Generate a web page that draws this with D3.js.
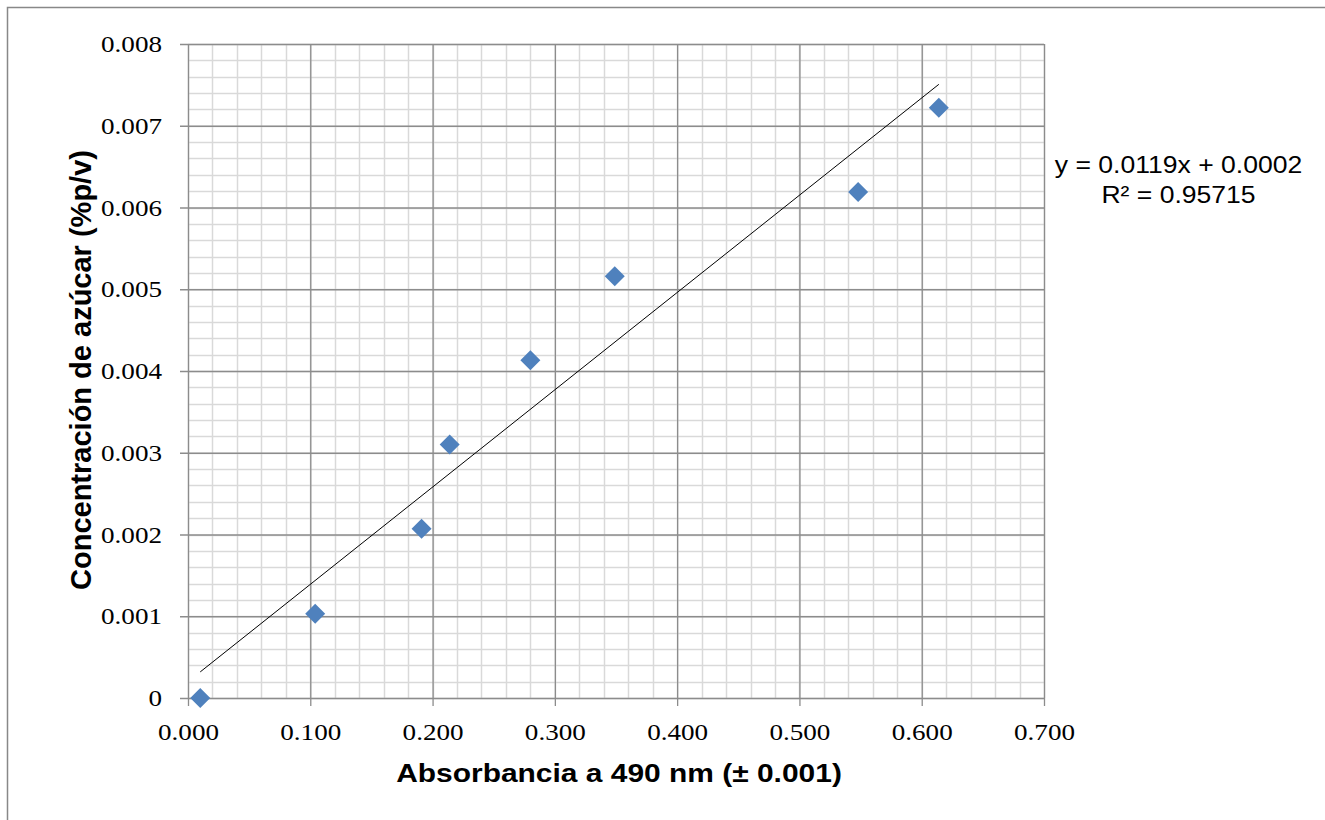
<!DOCTYPE html>
<html>
<head>
<meta charset="utf-8">
<script src="https://cdn.jsdelivr.net/npm/d3@7"></script>
<style>
  body { margin: 0; background: #fff; }
  .tick text { font-family: 'Liberation Serif', serif; font-size: 24px; fill: #000; }
  .axis-title { font-family: 'Liberation Sans', Arial, sans-serif; font-weight: bold; }
  .eq { font-family: 'Liberation Sans', Arial, sans-serif; font-size: 23.5px; }
</style>
</head>
<body>
<div id="wrapper"></div>
<script>
// absorbance readings and sugar concentration
const absorbance = [0.010, 0.104, 0.191, 0.214, 0.280, 0.349, 0.548, 0.614]
const concentration = [0.0000, 0.00103, 0.00207, 0.00310, 0.00413, 0.00516, 0.00619, 0.00722]

// trendline from the chart label
const slope = 0.0119
const intercept = 0.0002

const xTicks = [0, 0.1, 0.2, 0.3, 0.4, 0.5, 0.6, 0.7]
const yTicks = [0, 0.001, 0.002, 0.003, 0.004, 0.005, 0.006, 0.007, 0.008]
const eqLines = ['y = 0.0119x + 0.0002', 'R² = 0.95715']

// the original text is a little wider than the local fonts
const stretch = 1.13

function widen(text, k) {
  text.each(function() {
    const t = d3.select(this)
    const x = +t.attr('x') || 0
    const y = +t.attr('y') || 0
    t.attr('x', 0).attr('y', 0)
      .attr('transform', `translate(${x}, ${y}) scale(${k}, 1)`)
  })
}

function drawChart() {
  const dataset = absorbance.map((a, i) => ({x: a, y: concentration[i]}))

  let dimensions = {
    width: 1325,
    height: 820,
    margin: {top: 44, right: 281, bottom: 122, left: 188}
  }
  dimensions.boundedWidth = dimensions.width - dimensions.margin.left - dimensions.margin.right
  dimensions.boundedHeight = dimensions.height - dimensions.margin.top - dimensions.margin.bottom

  const wrapper = d3.select('#wrapper')
    .append('svg')
      .attr('width', dimensions.width)
      .attr('height', dimensions.height)

  // outer chart frame
  wrapper.append('path')
    .attr('d', 'M7.5,830 V7.5 H1330')
    .attr('fill', 'none')
    .attr('stroke', '#888')
    .attr('stroke-width', 1.5)

  const bounds = wrapper.append('g')
    .attr('transform', `translate(${dimensions.margin.left}, ${dimensions.margin.top})`)

  const xScale = d3.scaleLinear()
    .domain([0, 0.7])
    .range([0, dimensions.boundedWidth])

  const yScale = d3.scaleLinear()
    .domain([0, 0.008])
    .range([dimensions.boundedHeight, 0])

  // minor gridlines
  const xMinor = d3.range(0, 35 + 1).map(i => i * 0.02)
  const yMinor = d3.range(0, 40 + 1).map(i => i * 0.0002)

  bounds.append('g').selectAll('line')
    .data(xMinor)
    .join('line')
      .attr('x1', d => Math.round(xScale(d)) + 0.5)
      .attr('x2', d => Math.round(xScale(d)) + 0.5)
      .attr('y1', 0)
      .attr('y2', dimensions.boundedHeight)
      .attr('stroke', '#d9d9d9')
      .attr('stroke-width', 1.5)

  bounds.append('g').selectAll('line')
    .data(yMinor)
    .join('line')
      .attr('y1', d => Math.round(yScale(d)) + 0.5)
      .attr('y2', d => Math.round(yScale(d)) + 0.5)
      .attr('x1', 0)
      .attr('x2', dimensions.boundedWidth)
      .attr('stroke', '#d9d9d9')
      .attr('stroke-width', 1.5)

  // axes with major gridlines
  const xAxisGenerator = d3.axisBottom(xScale)
    .tickValues(xTicks)
    .tickFormat(d3.format('.3f'))
    .tickSizeInner(-dimensions.boundedHeight - 8)
    .tickSizeOuter(0)
    .tickPadding(17)

  const xAxis = bounds.append('g')
    .attr('transform', `translate(0, ${dimensions.boundedHeight + 8})`)
    .call(xAxisGenerator)
  xAxis.select('.domain').remove()
  xAxis.selectAll('.tick line').attr('stroke', '#8c8c8c').attr('stroke-width', 1.3)
  xAxis.selectAll('.tick text').call(widen, stretch)

  const yAxisGenerator = d3.axisLeft(yScale)
    .tickValues(yTicks)
    .tickFormat(d => d === 0 ? '0' : d3.format('.3f')(d))
    .tickSizeInner(-dimensions.boundedWidth - 8)
    .tickSizeOuter(0)
    .tickPadding(18)

  const yAxis = bounds.append('g')
    .attr('transform', 'translate(-8, 0)')
    .call(yAxisGenerator)
  yAxis.select('.domain').remove()
  yAxis.selectAll('.tick line').attr('stroke', '#8c8c8c').attr('stroke-width', 1.3)
  yAxis.selectAll('.tick text').call(widen, stretch)

  // trendline
  const xExtent = d3.extent(absorbance)
  bounds.append('line')
    .attr('x1', xScale(xExtent[0]))
    .attr('y1', yScale(slope * xExtent[0] + intercept))
    .attr('x2', xScale(xExtent[1]))
    .attr('y2', yScale(slope * xExtent[1] + intercept))
    .attr('stroke', '#000')
    .attr('stroke-width', 1)

  // diamond markers
  const diamond = d3.symbol().type(d3.symbolSquare).size(200)
  bounds.selectAll('.dot')
    .data(dataset)
    .join('path')
      .attr('class', 'dot')
      .attr('d', diamond)
      .attr('transform', d => `translate(${xScale(d.x)}, ${yScale(d.y)}) rotate(45)`)
      .attr('fill', '#4f81bd')

  // axis titles
  wrapper.append('text')
    .attr('class', 'axis-title')
    .attr('x', 619)
    .attr('y', 782)
    .attr('text-anchor', 'middle')
    .style('font-size', '26.5px')
    .text('Absorbancia a 490 nm (± 0.001)')
    .call(widen, stretch)

  wrapper.append('text')
    .attr('class', 'axis-title')
    .attr('transform', 'translate(91, 370) rotate(-90)')
    .attr('text-anchor', 'middle')
    .style('font-size', '29px')
    .text('Concentración de azúcar (%p/v)')

  // equation label
  wrapper.append('g').selectAll('text')
    .data(eqLines)
    .join('text')
      .attr('class', 'eq')
      .attr('x', 1178.5)
      .attr('y', (d, i) => 173 + i * 30)
      .attr('text-anchor', 'middle')
      .text(d => d)
      .call(widen, stretch)
}

drawChart()
</script>
</body>
</html>
